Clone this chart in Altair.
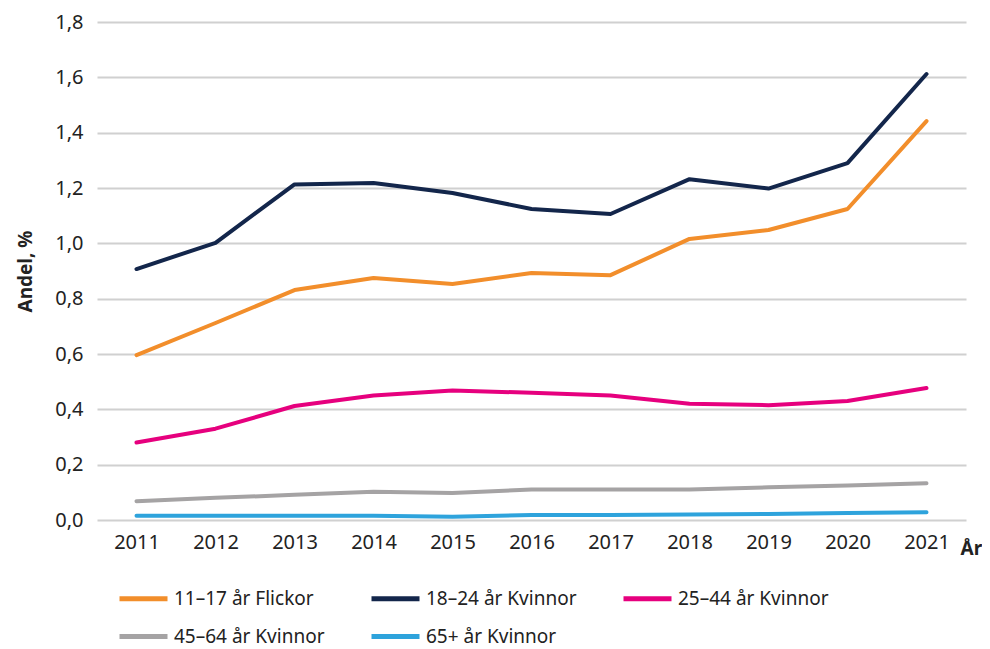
import altair as alt
import pandas as pd

years = ["2011", "2012", "2013", "2014", "2015", "2016", "2017", "2018", "2019", "2020", "2021"]
series_names = ["11–17 år Flickor", "18–24 år Kvinnor", "25–44 år Kvinnor", "45–64 år Kvinnor", "65+ år Kvinnor"]
flickor_11_17 = [0.596, 0.712, 0.831, 0.875, 0.853, 0.893, 0.885, 1.016, 1.048, 1.124, 1.442]
kvinnor_18_24 = [0.907, 1.002, 1.213, 1.218, 1.182, 1.124, 1.106, 1.232, 1.198, 1.290, 1.612]
kvinnor_25_44 = [0.280, 0.330, 0.412, 0.450, 0.468, 0.460, 0.450, 0.420, 0.415, 0.430, 0.477]
kvinnor_45_64 = [0.068, 0.080, 0.091, 0.102, 0.098, 0.110, 0.110, 0.110, 0.118, 0.125, 0.133]
kvinnor_65 = [0.015, 0.015, 0.015, 0.015, 0.012, 0.018, 0.018, 0.020, 0.022, 0.025, 0.028]
colors = ["#F28E2B", "#13264B", "#E6007E", "#A5A3A4", "#2EA3DC"]

all_series = [flickor_11_17, kvinnor_18_24, kvinnor_25_44, kvinnor_45_64, kvinnor_65]
rows = []
for name, vals in zip(series_names, all_series):
    for y, v in zip(years, vals):
        rows.append({"År": y, "Andel": v, "Grupp": name})
df = pd.DataFrame(rows)

FONT = "Noto Sans"

chart = alt.Chart(df).mark_line(strokeWidth=4, strokeCap="round", strokeJoin="round").encode(
    x=alt.X("År:O", sort=years,
            scale=alt.Scale(type="point", padding=0.5),
            axis=alt.Axis(title="År", labelAngle=0, labelFontSize=20, labelColor="#222222",
                          labelPadding=12, ticks=False, domain=False, grid=False,
                          titleFontSize=19, titleFontWeight="bold", titleColor="#222222",
                          titleX=863, titleY=28, titleAlign="left", titleBaseline="middle")),
    y=alt.Y("Andel:Q",
            scale=alt.Scale(domain=[0, 1.8], nice=False),
            axis=alt.Axis(title="Andel, %", values=[0, 0.2, 0.4, 0.6, 0.8, 1.0, 1.2, 1.4, 1.6, 1.8],
                          labelExpr="replace(format(datum.value, '.1f'), '.', ',')",
                          labelFontSize=20, labelColor="#222222", labelPadding=14,
                          ticks=False, domain=False, grid=True, gridColor="#D0D0D0", gridWidth=2,
                          titleFontSize=19, titleFontWeight="bold", titleColor="#222222",
                          titleX=-72, titleY=249, titleAngle=-90, titleAlign="center",
                          titleBaseline="middle")),
    color=alt.Color("Grupp:N", sort=series_names,
                    scale=alt.Scale(domain=series_names, range=colors),
                    legend=alt.Legend(title=None, orient="none", legendX=20, legendY=564,
                                      direction="horizontal", columns=3,
                                      symbolType="M-1,0H3.8", symbolSize=400,
                                      symbolStrokeWidth=5, labelFontSize=19, labelColor="#222222",
                                      labelOffset=32, columnPadding=36, rowPadding=15,
                                      labelLimit=300)),
).properties(
    width=869, height=498,
    autosize=alt.AutoSizeParams(type="none"),
    padding={"left": 89, "top": 14, "right": 16, "bottom": 127},
).configure(font=FONT).configure_view(stroke=None)

chart.save("out.html", embed_options={"renderer": "svg", "actions": False})
